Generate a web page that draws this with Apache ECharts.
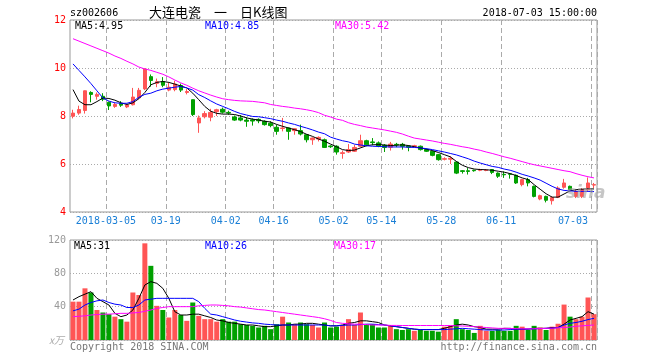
<!DOCTYPE html>
<html><head><meta charset="utf-8">
<script src="https://cdn.jsdelivr.net/npm/echarts@6/dist/echarts.min.js"></script>
<style>html,body{margin:0;padding:0;background:#fff}#c{width:660px;height:360px}</style>
</head><body><div id="c"></div>
<script>
const dates = ["2018-02-23","2018-02-26","2018-02-27","2018-02-28","2018-03-01","2018-03-02",
"2018-03-05","2018-03-06","2018-03-07","2018-03-08","2018-03-09","2018-03-12","2018-03-13","2018-03-14","2018-03-15","2018-03-16",
"2018-03-19","2018-03-20","2018-03-21","2018-03-22","2018-03-23","2018-03-26","2018-03-27","2018-03-28","2018-03-29","2018-03-30",
"2018-04-02","2018-04-03","2018-04-04","2018-04-09","2018-04-10","2018-04-11","2018-04-12","2018-04-13",
"2018-04-16","2018-04-17","2018-04-18","2018-04-19","2018-04-20","2018-04-23","2018-04-24","2018-04-25","2018-04-26","2018-04-27",
"2018-05-02","2018-05-03","2018-05-04","2018-05-07","2018-05-08","2018-05-09","2018-05-10","2018-05-11",
"2018-05-14","2018-05-15","2018-05-16","2018-05-17","2018-05-18","2018-05-21","2018-05-22","2018-05-23","2018-05-24","2018-05-25",
"2018-05-28","2018-05-29","2018-05-30","2018-05-31","2018-06-01","2018-06-04","2018-06-05","2018-06-06","2018-06-07","2018-06-08",
"2018-06-11","2018-06-12","2018-06-13","2018-06-14","2018-06-15","2018-06-19","2018-06-20","2018-06-21","2018-06-22",
"2018-06-25","2018-06-26","2018-06-27","2018-06-28","2018-06-29","2018-07-02","2018-07-03"];
const tickDates = ["2018-03-05","2018-03-19","2018-04-02","2018-04-16","2018-05-02","2018-05-14","2018-05-28","2018-06-11","2018-07-03"];

const opens = [7.99,8.12,8.23,8.98,8.82,8.82,8.57,8.40,8.52,8.38,8.47,8.76,9.13,9.64,9.36,9.43,9.08,9.10,9.27,8.98,
8.68,7.71,7.97,7.95,8.18,8.28,8.15,7.96,7.92,7.83,7.84,7.86,7.78,7.70,7.53,7.48,7.50,7.39,7.39,7.22,
7.01,7.04,7.01,6.75,6.74,6.44,6.50,6.53,6.74,6.97,6.92,6.88,6.78,6.70,6.82,6.82,6.75,6.74,6.74,6.60,
6.53,6.39,6.20,6.20,6.08,5.72,5.72,5.74,5.74,5.73,5.77,5.62,5.57,5.59,5.53,5.14,5.35,5.07,4.54,4.65,
4.47,4.61,5.03,5.07,4.65,4.65,4.93,5.12];
const closes = [8.12,8.27,9.05,8.90,8.90,8.70,8.42,8.48,8.45,8.46,8.79,9.07,9.96,9.48,9.43,9.28,9.20,9.33,9.08,9.02,
8.06,7.92,8.10,8.15,8.26,8.16,8.12,7.83,7.83,7.78,7.79,7.80,7.64,7.60,7.36,7.50,7.36,7.47,7.25,7.01,
7.08,7.11,6.69,6.72,6.50,6.47,6.60,6.69,6.97,6.80,6.89,6.75,6.69,6.83,6.80,6.74,6.70,6.76,6.60,6.53,
6.36,6.18,6.22,6.24,5.62,5.69,5.69,5.72,5.76,5.75,5.65,5.49,5.55,5.57,5.21,5.35,5.21,4.65,4.68,4.49,
4.60,5.00,5.21,4.93,4.86,4.93,5.21,5.14];
const lows = [7.90,8.05,8.10,8.57,8.68,8.62,8.25,8.34,8.38,8.33,8.44,8.70,9.08,9.22,9.20,9.20,9.03,9.03,9.00,8.90,
8.00,7.30,7.90,7.78,8.00,8.10,8.05,7.80,7.78,7.55,7.60,7.70,7.60,7.53,7.22,7.36,7.01,7.22,7.19,6.90,
6.80,6.94,6.67,6.67,6.39,6.22,6.46,6.50,6.69,6.74,6.78,6.70,6.50,6.56,6.70,6.60,6.53,6.70,6.56,6.50,
6.32,6.14,6.15,6.00,5.58,5.60,5.56,5.68,5.70,5.70,5.58,5.42,5.42,5.39,5.17,5.07,5.07,4.61,4.49,4.40,
4.31,4.58,4.97,4.89,4.58,4.58,4.86,5.00];
const highs = [8.26,8.43,9.06,9.03,8.98,8.95,8.60,8.56,8.62,8.50,9.17,9.17,9.98,9.73,9.56,9.62,9.40,9.47,9.35,9.12,
8.69,8.02,8.20,8.30,8.30,8.35,8.22,8.02,8.04,7.95,7.90,7.90,7.82,7.78,7.64,7.92,7.52,7.50,7.64,7.24,
7.11,7.15,7.06,6.78,6.78,6.56,6.83,6.80,7.22,7.01,7.08,6.94,6.83,6.92,6.88,6.88,6.78,6.80,6.77,6.64,
6.56,6.42,6.28,6.32,6.10,5.75,5.83,5.76,5.80,5.78,5.79,5.65,5.69,5.62,5.56,5.38,5.42,5.10,4.72,4.68,
4.65,5.07,5.38,5.10,4.93,5.00,5.44,5.21];
const ma5 = [9.10,8.62,8.47,8.47,8.60,8.75,8.73,8.66,8.55,8.48,8.55,8.72,8.98,9.30,9.40,9.44,9.40,9.33,9.25,9.17,
8.95,8.68,8.40,8.20,8.11,8.08,8.08,8.06,8.00,7.92,7.87,7.83,7.78,7.75,7.65,7.57,7.50,7.43,7.35,7.24,
7.15,7.04,6.95,6.83,6.72,6.60,6.56,6.58,6.67,6.76,6.80,6.81,6.79,6.77,6.78,6.80,6.77,6.72,6.67,6.62,
6.56,6.48,6.39,6.30,6.11,5.95,5.85,5.79,5.77,5.76,5.74,5.70,5.66,5.60,5.52,5.42,5.35,5.14,4.95,4.76,
4.62,4.62,4.75,4.88,4.93,4.95,4.97,4.96];
const ma10 = [10.17,9.90,9.63,9.35,9.05,8.75,8.62,8.55,8.53,8.53,8.60,8.78,8.90,8.95,9.05,9.12,9.16,9.20,9.23,9.17,
9.08,8.89,8.77,8.63,8.50,8.40,8.30,8.19,8.10,8.04,7.98,7.97,7.93,7.89,7.83,7.78,7.71,7.65,7.57,7.50,
7.42,7.33,7.26,7.12,7.04,6.97,6.92,6.83,6.79,6.76,6.74,6.73,6.72,6.71,6.71,6.71,6.70,6.69,6.67,6.64,
6.60,6.55,6.50,6.44,6.38,6.30,6.22,6.12,6.04,5.97,5.90,5.86,5.79,5.74,5.66,5.57,5.50,5.42,5.33,5.20,
5.07,4.96,4.90,4.88,4.86,4.86,4.86,4.85];
const ma30 = [11.22,11.12,11.02,10.92,10.82,10.72,10.62,10.50,10.40,10.28,10.17,10.04,9.96,9.90,9.82,9.74,9.63,9.50,9.38,9.28,
9.16,9.05,8.96,8.87,8.79,8.72,8.68,8.65,8.63,8.62,8.61,8.58,8.55,8.48,8.44,8.40,8.37,8.33,8.30,8.26,
8.21,8.14,8.03,7.96,7.87,7.82,7.72,7.65,7.60,7.54,7.50,7.46,7.42,7.37,7.32,7.25,7.16,7.08,7.04,7.00,
6.96,6.91,6.86,6.82,6.77,6.72,6.68,6.62,6.57,6.50,6.44,6.37,6.30,6.24,6.17,6.10,6.03,5.97,5.92,5.87,
5.82,5.77,5.72,5.68,5.60,5.53,5.47,5.42];
const volumes = [46,46,62,57,36,33,31,28,25,22,57,54,116,89,41,36,27,36,30,23,
45,29,25,25,22,25,22,22,19,18,17,15,17,13,19,28,21,19,21,19,
18,15,21,15,16,18,25,18,33,19,19,15,15,18,13,12,13,11,12,11,
11,10,16,17,25,13,12,8.5,17,11,11,12,11,11,17,16,12,17,15,12,
16,19.5,42.5,28,25,28,51,31];
const vma5 = [48,52,55,58,50,46,42,32,28,30,36,50,66,70,68,62,50,34,30,30,
31,31,29,27,24,23,21,20,19,18,18,17,16,16,17,18,18,19,19,20,
20,19,18,17,17,18,20,21,23,23,22,21,18,17,16,15,14,13,12.5,12.5,
12.5,12.5,14,16,18,19,18,16,15,13,13,13,14,14,13,13,13,14,14,14,
15,15,19,24,26,28,34,31];
const vma10 = [35,37,42,45,47,48,45,43,42,39,39,42,48,49,50,50,50,50,50,50,
50,46,38,31,30,28,26,24,22.5,21.5,20.5,20,19,18.5,18,18,18,18,18,18,
18,18,18,17,17,17.5,18,18,18.5,19,19,18.5,18,17,16,15,14,13,12.5,12.5,
12.5,12.5,12.5,13,13.5,14,13.5,13,12.5,12,12,12,12,12.5,13,13,13.2,13.4,13.6,14,
14,15,18,20,21,22.5,24.5,26];
const vma30 = [28,28.5,29,30,30.5,31,31,31.5,32,32,32.5,33,34.5,36,38,39,40,40,40,40,
40,41,41.5,42,42,41.5,41,40,39.5,38.5,37.5,36.5,36,35,34,33,32,31,30,29,
28,27,25.5,23.5,21,20,19.5,19,19,18.5,18,18,18,17.5,17.5,17.4,17.4,17.4,17.4,17.4,
17.4,17.4,17.4,17.4,17,16.8,16.5,16,15.5,15,14.5,14,14,13.8,13.6,13.4,13.4,13.5,13.8,14,
14.3,14.6,15,15.5,16.5,17,17.5,18];
const priceTicks = [4, 6, 8, 10, 12];
const volTicks = [0, 40, 80, 120];

const UP = '#ff5555', DOWN = '#00a000';
const MONO = '"DejaVu Sans Mono", monospace';
const candleData = dates.map((d, i) => [opens[i], closes[i], lows[i], highs[i]]);
const volData = volumes.map((v, i) => ({ value: v, itemStyle: { color: closes[i] >= opens[i] ? UP : DOWN } }));
const isTick = (idx) => tickDates.indexOf(dates[idx]) >= 0;

const chart = echarts.init(document.getElementById('c'), null, { renderer: 'canvas' });
const splitX = { show: true, interval: (idx) => isTick(idx), lineStyle: { color: '#aaa', type: [5, 3], width: 1 } };
const splitY = { show: true, lineStyle: { color: '#aaa', type: [1, 2], width: 1 } };
const lineS = (name, data, color, xi) => ({
  name, type: 'line', data, xAxisIndex: xi, yAxisIndex: xi, showSymbol: false, symbol: 'none',
  lineStyle: { color, width: 1 }, itemStyle: { color }, silent: true, z: 5
});
const txt = (text, x, y, fill, extra) => ({
  type: 'text', x, y, silent: true, z: 100,
  style: Object.assign({ text, fill, font: '10px ' + MONO, verticalAlign: 'middle', align: 'left' }, extra || {})
});

chart.setOption({
  animation: false,
  backgroundColor: '#fff',
  grid: [
    { left: 70, right: 63, top: 20, height: 192, show: true, borderColor: '#999', borderWidth: 1, backgroundColor: 'transparent' },
    { left: 70, right: 63, top: 240, height: 100, show: true, borderColor: '#999', borderWidth: 1, backgroundColor: 'transparent' }
  ],
  xAxis: [
    { type: 'category', gridIndex: 0, data: dates, boundaryGap: true,
      axisLine: { show: false }, axisTick: { show: false },
      axisLabel: { interval: (idx) => isTick(idx), color: '#1a7fd6', fontFamily: MONO, fontSize: 10, margin: 4,
        padding: [0, 6, 0, 0], alignMaxLabel: 'right', showMaxLabel: true,
        formatter: (v) => v === '2018-03-05' ? v : v.slice(5) },
      splitLine: splitX },
    { type: 'category', gridIndex: 1, data: dates, boundaryGap: true,
      axisLine: { show: false }, axisTick: { show: false }, axisLabel: { show: false },
      splitLine: splitX }
  ],
  yAxis: [
    { type: 'value', gridIndex: 0, min: priceTicks[0], max: priceTicks[priceTicks.length - 1], interval: 2,
      axisLine: { show: false }, axisTick: { show: false },
      axisLabel: { color: '#ff0000', fontFamily: MONO, fontSize: 10, margin: 4 },
      splitLine: splitY },
    { type: 'value', gridIndex: 1, min: volTicks[0], max: volTicks[volTicks.length - 1], interval: 40,
      axisLine: { show: false }, axisTick: { show: false },
      axisLabel: { color: '#999', fontFamily: MONO, fontSize: 10, margin: 4, formatter: (v) => v === 0 ? '' : String(v) },
      splitLine: splitY }
  ],
  series: [
    { type: 'candlestick', name: 'K', data: candleData, xAxisIndex: 0, yAxisIndex: 0, barWidth: 4,
      itemStyle: { color: UP, color0: DOWN, borderColor: UP, borderColor0: DOWN, borderWidth: 1 }, z: 3 },
    lineS('MA5', ma5, '#000000', 0),
    lineS('MA10', ma10, '#0000ff', 0),
    lineS('MA30', ma30, '#ff00ff', 0),
    { type: 'bar', name: 'VOL', data: volData, xAxisIndex: 1, yAxisIndex: 1, barWidth: 5, z: 3 },
    lineS('VMA5', vma5, '#000000', 1),
    lineS('VMA10', vma10, '#0000ff', 1),
    lineS('VMA30', vma30, '#ff00ff', 1)
  ],
  graphic: [
    txt('sz002606', 70, 13, '#000'),
    txt('大连电瓷　一　日K线图', 149, 12, '#000', { font: '13px "Noto Sans CJK SC"' }),
    txt('2018-07-03 15:00:00', 597, 13, '#000', { align: 'right' }),
    txt('MA5:4.95', 75, 26, '#000'),
    txt('MA10:4.85', 205, 26, '#0000ff'),
    txt('MA30:5.42', 335, 26, '#ff00ff'),
    txt('MA5:31', 74, 246, '#000'),
    txt('MA10:26', 205, 246, '#0000ff'),
    txt('MA30:17', 334, 246, '#ff00ff'),
    txt('x万', 64, 340, '#aaa', { align: 'right', font: 'italic 10px "Noto Sans CJK SC"' }),
    txt('Copyright 2018 SINA.COM', 70, 347, '#777'),
    txt('http://finance.sina.com.cn', 597, 347, '#777', { align: 'right' }),
    txt('sina', 566, 194, 'rgba(160,160,160,0.6)', { font: 'italic bold 17px "DejaVu Sans"' })
  ]
});
</script></body></html>
